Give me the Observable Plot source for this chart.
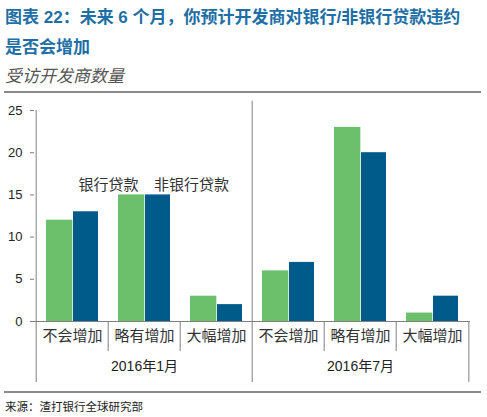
<!DOCTYPE html>
<html>
<head>
<meta charset="utf-8">
<script src="https://cdn.jsdelivr.net/npm/d3@7"></script>
<script src="https://cdn.jsdelivr.net/npm/@observablehq/plot@0.6"></script>
<style>
  body { margin: 0; background: #fff; font-family: "Liberation Sans", Arial, "Noto Sans CJK SC", sans-serif; }
  #wrap { position: relative; width: 487px; height: 417px; }
  #title { position: absolute; left: 5px; top: 3px; width: 470px; font-size: 17px; font-weight: bold; color: #1e6fa5; line-height: 30px; }
  #subtitle { position: absolute; left: 5px; top: 62px; font-size: 17px; font-style: italic; color: #555; }
  .rule { position: absolute; left: 4px; width: 477px; height: 2px; background: #8a8a8a; }
  #chart { position: absolute; left: 0; top: 93px; }
  #source { position: absolute; left: 5px; top: 398px; font-size: 11.5px; color: #222; }
</style>
</head>
<body>
<div id="wrap">
  <div id="title">图表 22：未来 6 个月，你预计开发商对银行/非银行贷款违约<br>是否会增加</div>
  <div id="subtitle">受访开发商数量</div>
  <div class="rule" style="top:91px"></div>
  <div id="chart"></div>
  <div class="rule" style="top:391px"></div>
  <div id="source">来源：渣打银行全球研究部</div>
</div>
<script>
// categories
groups = ["2016年1月", "2016年7月"];
answers = ["不会增加", "略有增加", "大幅增加"];
series = ["银行贷款", "非银行贷款"];
// values, one per group x answer
bank = [12, 15, 3, 6, 23, 1];
nonBank = [13, 15, 2, 7, 20, 3];
yTicks = [0, 5, 10, 15, 20, 25];

keys = [];
groups.forEach((g) => answers.forEach((a) => keys.push(g + "|" + a)));

data = [];
keys.forEach((k, i) => {
  data.push({ key: k, series: series[0], value: bank[i] });
  data.push({ key: k, series: series[1], value: nonBank[i] });
});

createChart(data);

function createChart(data) {
  const width = 487;
  const marginLeft = 34;
  const marginRight = 17;
  const bw = (width - marginLeft - marginRight) / keys.length;
  const pxPerUnit = 211 / 25;
  const gray = "#808080";

  let chart = Plot.plot({
    width: width,
    height: 298,
    marginTop: 17,
    marginBottom: 70,
    marginLeft: marginLeft,
    marginRight: marginRight,
    style: { fontFamily: '"Liberation Sans", Arial, "Noto Sans CJK SC", sans-serif', color: "#222" },
    x: { domain: keys, padding: 0, axis: null },
    y: { domain: [0, 25], axis: null },
    color: { domain: series, range: ["#6cc06c", "#005a8a"] },
    marks: [
      Plot.barY(data.filter((d) => d.series === series[0]), {
        x: "key", y: "value", fill: "series", insetLeft: 10, insetRight: bw - 37
      }),
      Plot.barY(data.filter((d) => d.series === series[1]), {
        x: "key", y: "value", fill: "series", insetLeft: 37, insetRight: 10
      }),
      // y axis
      Plot.axisY({ ticks: yTicks, tickSize: 4, tickPadding: 8, fontSize: 13, stroke: gray, color: "#222", label: null }),
      Plot.ruleX([keys[0]], { x: (d) => d, dx: -bw / 2, y1: 0, y2: 25, stroke: gray }),
      // separator between the two periods
      Plot.ruleX([keys[3]], { x: (d) => d, dx: -bw / 2, y1: 0, y2: 26.1, stroke: gray }),
      Plot.ruleY([0], { stroke: gray }),
      // category ticks under the axis
      Plot.ruleX(keys.filter((k, i) => i % 3 !== 0), {
        x: (d) => d, dx: -bw / 2, y1: 0, y2: -30 / pxPerUnit, stroke: gray
      }),
      // group ticks under the axis
      Plot.ruleX([keys[0], keys[3]], {
        x: (d) => d, dx: -bw / 2, y1: 0, y2: -61 / pxPerUnit, stroke: gray
      }),
      Plot.ruleX([keys[5]], {
        x: (d) => d, dx: bw / 2, y1: 0, y2: -61 / pxPerUnit, stroke: gray
      }),
      // category labels
      Plot.text(keys, {
        x: (d) => d, text: (d) => d.split("|")[1], frameAnchor: "bottom", dy: 19,
        fontSize: 15, fill: "#333"
      }),
      // group labels
      Plot.text([keys[1], keys[4]], {
        x: (d) => d, text: (d) => d.split("|")[0], frameAnchor: "bottom", dy: 49,
        fontSize: 14, fill: "#222"
      }),
      // series labels
      Plot.text([series[0]], { x: [keys[0]], y: [16.2], text: (d) => d, dx: 36, fontSize: 15, fill: "#333" }),
      Plot.text([series[1]], { x: [keys[1]], y: [16.2], text: (d) => d, dx: 47, fontSize: 15, fill: "#333" })
    ]
  });
  d3.select("#chart").append(() => chart);
}
</script>
</body>
</html>
